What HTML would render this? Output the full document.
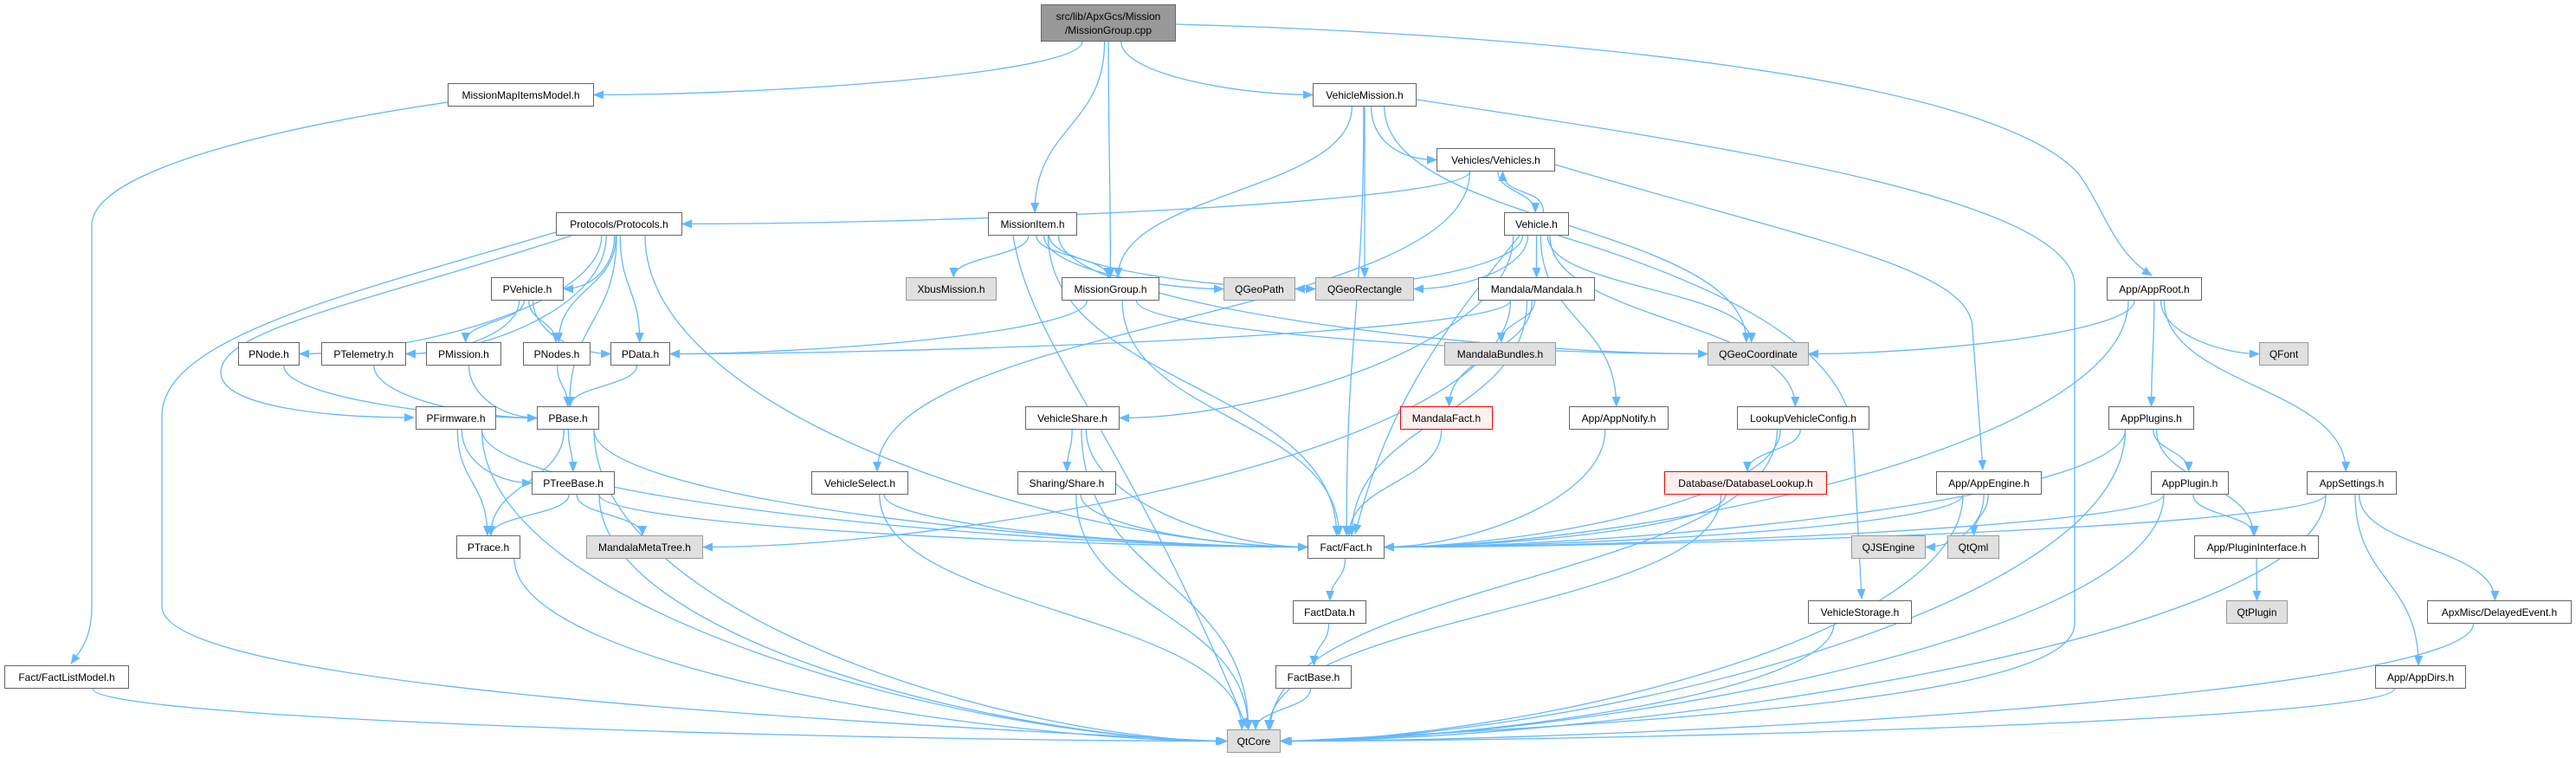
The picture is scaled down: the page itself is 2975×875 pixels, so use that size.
<!DOCTYPE html>
<html><head><meta charset="utf-8"><style>
html,body{margin:0;padding:0;background:#fff;}
#c{position:relative;width:2975px;height:875px;overflow:hidden;font-family:"Liberation Sans",Arial,sans-serif;font-size:12px;}
svg{position:absolute;left:0;top:0;}
.n{position:absolute;box-sizing:border-box;border:1.5px solid #666;background:#fff;color:#000;display:flex;align-items:center;justify-content:center;white-space:nowrap;text-align:center;line-height:16px;}
.g{background:#e0e0e0;border-color:#999;}
.r{background:#fff0f0;border-color:#f00;}
.m{background:#999;border-color:#666;}
</style></head><body><div id="c">
<svg id="s" width="2975" height="875"><defs><marker id="a" markerWidth="12" markerHeight="10" refX="11" refY="5" orient="auto" markerUnits="userSpaceOnUse"><path d="M0,0 L12,5 L0,10 z" fill="#63b8ff"/></marker></defs><g id="e" fill="none" stroke="#63b8ff" stroke-width="1.3"></g></svg>
<div class="n m" style="left:1202px;top:5px;width:156px;height:43px">src/lib/ApxGcs/Mission<br>/MissionGroup.cpp</div>
<div class="n" id="MMI" style="left:517px;top:96px;width:169px;height:27px">MissionMapItemsModel.h</div>
<div class="n" id="VM" style="left:1516px;top:96px;width:120px;height:27px">VehicleMission.h</div>
<div class="n" id="VS" style="left:1659px;top:171px;width:137px;height:27px">Vehicles/Vehicles.h</div>
<div class="n" id="PR" style="left:642px;top:245px;width:146px;height:27px">Protocols/Protocols.h</div>
<div class="n" id="MI" style="left:1141px;top:245px;width:103px;height:27px">MissionItem.h</div>
<div class="n" id="VE" style="left:1737px;top:245px;width:75px;height:27px">Vehicle.h</div>
<div class="n" id="PV" style="left:567px;top:320px;width:84px;height:27px">PVehicle.h</div>
<div class="n g" id="XB" style="left:1046px;top:320px;width:105px;height:27px">XbusMission.h</div>
<div class="n" id="MG" style="left:1226px;top:320px;width:113px;height:27px">MissionGroup.h</div>
<div class="n g" id="QP" style="left:1413px;top:320px;width:83px;height:27px">QGeoPath</div>
<div class="n g" id="QR" style="left:1519px;top:320px;width:114px;height:27px">QGeoRectangle</div>
<div class="n" id="MA" style="left:1707px;top:320px;width:135px;height:27px">Mandala/Mandala.h</div>
<div class="n" id="AR" style="left:2433px;top:320px;width:110px;height:27px">App/AppRoot.h</div>
<div class="n" id="PN" style="left:275px;top:395px;width:71px;height:27px">PNode.h</div>
<div class="n" id="PT" style="left:371px;top:395px;width:98px;height:27px">PTelemetry.h</div>
<div class="n" id="PM" style="left:492px;top:395px;width:87px;height:27px">PMission.h</div>
<div class="n" id="PNS" style="left:604px;top:395px;width:78px;height:27px">PNodes.h</div>
<div class="n" id="PD" style="left:705px;top:395px;width:69px;height:27px">PData.h</div>
<div class="n g" id="MB" style="left:1668px;top:395px;width:129px;height:27px">MandalaBundles.h</div>
<div class="n g" id="QC" style="left:1972px;top:395px;width:117px;height:27px">QGeoCoordinate</div>
<div class="n g" id="QF" style="left:2609px;top:395px;width:57px;height:27px">QFont</div>
<div class="n" id="PF" style="left:480px;top:469px;width:93px;height:27px">PFirmware.h</div>
<div class="n" id="PB" style="left:620px;top:469px;width:72px;height:27px">PBase.h</div>
<div class="n" id="VSH" style="left:1184px;top:469px;width:109px;height:27px">VehicleShare.h</div>
<div class="n r" id="MF" style="left:1617px;top:469px;width:107px;height:27px">MandalaFact.h</div>
<div class="n" id="AN" style="left:1812px;top:469px;width:115px;height:27px">App/AppNotify.h</div>
<div class="n" id="LV" style="left:2006px;top:469px;width:153px;height:27px">LookupVehicleConfig.h</div>
<div class="n" id="APS" style="left:2435px;top:469px;width:99px;height:27px">AppPlugins.h</div>
<div class="n" id="PTB" style="left:614px;top:544px;width:96px;height:27px">PTreeBase.h</div>
<div class="n" id="VSE" style="left:937px;top:544px;width:112px;height:27px">VehicleSelect.h</div>
<div class="n" id="SH" style="left:1175px;top:544px;width:114px;height:27px">Sharing/Share.h</div>
<div class="n r" id="DB" style="left:1922px;top:544px;width:188px;height:27px">Database/DatabaseLookup.h</div>
<div class="n" id="AE" style="left:2236px;top:544px;width:122px;height:27px">App/AppEngine.h</div>
<div class="n" id="AP" style="left:2484px;top:544px;width:90px;height:27px">AppPlugin.h</div>
<div class="n" id="AS" style="left:2664px;top:544px;width:104px;height:27px">AppSettings.h</div>
<div class="n" id="PTR" style="left:527px;top:618px;width:74px;height:27px">PTrace.h</div>
<div class="n g" id="MMT" style="left:677px;top:618px;width:135px;height:27px">MandalaMetaTree.h</div>
<div class="n" id="FA" style="left:1510px;top:618px;width:89px;height:27px">Fact/Fact.h</div>
<div class="n g" id="QJ" style="left:2138px;top:618px;width:86px;height:27px">QJSEngine</div>
<div class="n g" id="QQ" style="left:2249px;top:618px;width:60px;height:27px">QtQml</div>
<div class="n" id="PI" style="left:2534px;top:618px;width:144px;height:27px">App/PluginInterface.h</div>
<div class="n" id="FD" style="left:1493px;top:693px;width:85px;height:27px">FactData.h</div>
<div class="n" id="VST" style="left:2088px;top:693px;width:120px;height:27px">VehicleStorage.h</div>
<div class="n g" id="QPL" style="left:2571px;top:693px;width:71px;height:27px">QtPlugin</div>
<div class="n" id="DE" style="left:2803px;top:693px;width:167px;height:27px">ApxMisc/DelayedEvent.h</div>
<div class="n" id="FL" style="left:5px;top:768px;width:144px;height:27px">Fact/FactListModel.h</div>
<div class="n" id="FB" style="left:1473px;top:768px;width:88px;height:27px">FactBase.h</div>
<div class="n" id="AD" style="left:2743px;top:768px;width:105px;height:27px">App/AppDirs.h</div>
<div class="n g" id="QT" style="left:1417px;top:842px;width:62px;height:27px">QtCore</div>
</div>
<script>
var N={MAIN:[1202,5,1358,48]};
document.querySelectorAll('.n[id]').forEach(function(d){var l=parseFloat(d.style.left),t=parseFloat(d.style.top);N[d.id]=[l,t,l+parseFloat(d.style.width),t+parseFloat(d.style.height)];});
var O={
"MMI FL":"M517,118 C300,150 106,200 106,260 L106,700 C106,740 90,755 82,766",
"VM QT":"M1636,115 C2000,170 2396,230 2396,330 L2396,720 C2396,800 2000,830 1481,856",
"VS AE":"M1796,190 C2100,280 2278,310 2278,380 L2290,542",
"PR QT":"M642,268 C400,340 187,390 187,480 L187,700 C187,790 900,830 1415,856",
"PR PF":"M660,272 C420,350 255,380 255,430 C255,470 380,482 478,482",
"MAIN AR":"M1358,28 C1800,40 2300,90 2400,200 C2430,240 2440,290 2485,318",
"VE VST":"M1800,272 C1990,330 2130,400 2140,500 L2150,691",
"MI QT":"M1170,272 C1190,400 1300,500 1440,840",
"VE FA":"M1755,272 C1650,400 1600,480 1565,616"
};
var E="MAIN MMI,MAIN VM,MAIN MI,MAIN MG,MAIN AR,MMI FL,FL QT,VM MG,VM FA,VM QR,VM VS,VM QC,VM QT,VS PR,VS VSE,VS VE,VS AE,VE VS,VE QP,VE QR,VE MA,VE QC,VE VSH,VE FA,VE AN,VE LV,VE VST,MI XB,MI MG,MI QP,MI QR,MI QC,MI FA,MI QT,PR PV,PR PN,PR PT,PR PNS,PR PD,PR PB,PR PF,PR FA,PR QT,PV PT,PV PM,PV PNS,PV PD,PN PB,PT PB,PM PB,PNS PB,PD PB,MG QC,MG FA,MG PD,MA MB,MA MF,MA MMT,MA FA,MA PD,PF PTB,PF PTR,PF FA,PF QT,PB PTB,PB PTR,PB FA,PB QT,PTB PTR,PTB MMT,PTB FA,PTB QT,PTR QT,VSH SH,VSH FA,VSH QT,SH FA,SH QT,VSE FA,VSE QT,MF FA,AN FA,LV DB,LV FA,LV QT,DB FA,DB QT,AE QJ,AE QQ,AE FA,AE QT,AR QC,AR FA,AR APS,AR QF,AR AS,APS AP,APS PI,APS FA,APS QT,AP PI,AP FA,AP QT,PI QPL,AS AD,AS DE,AS FA,AS QT,AD QT,DE QT,VST QT,FA FD,FD FB,FB QT".split(',');
var g=document.getElementById('e'),h='';
E.forEach(function(p){var d;if(O[p]){h+='<path d="'+O[p]+'" marker-end="url(#a)"/>';return;}
var q=p.split(' '),s=N[q[0]],t=N[q[1]];if(!s||!t)return;
var scx=(s[0]+s[2])/2,tcx=(t[0]+t[2])/2,sx,sy,tx,ty;
if(t[1]<s[1]){sx=scx+8;sy=s[1];tx=tcx+8;ty=t[3];d='M'+sx+','+sy+' C'+sx+','+(sy-30)+' '+tx+','+(ty+30)+' '+tx+','+ty;}
else{
var dx=tcx-scx,dy=t[1]-s[3];
sx=scx+Math.max(-30,Math.min(30,dx*0.05));sy=s[3];
if(Math.abs(dx)>2.2*Math.max(dy,1)&&(t[2]-t[0])<200){tx=dx>0?t[0]:t[2];ty=(t[1]+t[3])/2;
d='M'+sx+','+sy+' C'+sx+','+(sy+(ty-sy)*0.6)+' '+(tx-dx*0.3)+','+ty+' '+tx+','+ty;}
else{tx=tcx-Math.max(-20,Math.min(20,dx*0.03));ty=t[1];var my=(sy+ty)/2;d='M'+sx+','+sy+' C'+sx+','+my+' '+tx+','+my+' '+tx+','+ty;}}
h+='<path d="'+d+'" marker-end="url(#a)"/>';});
g.innerHTML=h;
</script>
</body></html>
